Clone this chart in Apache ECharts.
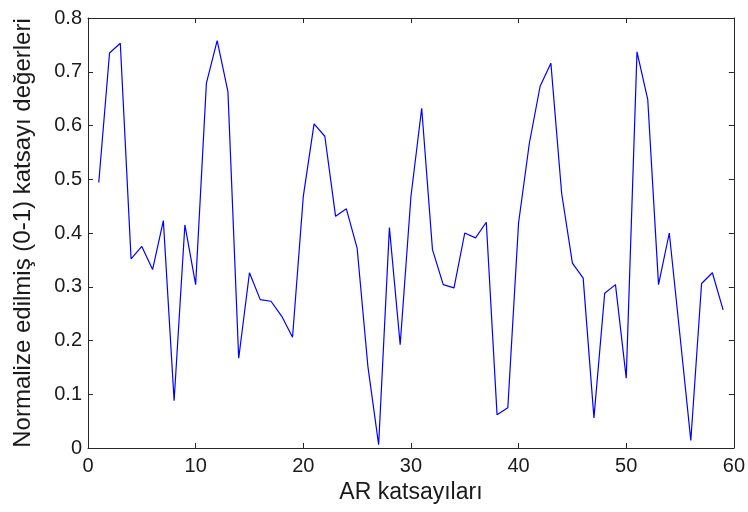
<!DOCTYPE html>
<html><head><meta charset="utf-8">
<script src="https://cdn.jsdelivr.net/npm/echarts@6/dist/echarts.min.js"></script>
<style>html,body{margin:0;padding:0;background:#fff}#c{width:748px;height:512px}</style>
</head><body><div id="c"></div>
<script>
const xValues = [1,2,3,4,5,6,7,8,9,10,11,12,13,14,15,16,17,18,19,20,21,22,23,24,25,26,27,28,29,30,31,32,33,34,35,36,37,38,39,40,41,42,43,44,45,46,47,48,49,50,51,52,53,54,55,56,57,58,59];
const yValues = [0.494,0.735,0.753,0.352,0.375,0.332,0.423,0.088,0.415,0.304,0.679,0.758,0.663,0.167,0.326,0.276,0.273,0.245,0.206,0.468,0.603,0.580,0.431,0.445,0.372,0.152,0.006,0.410,0.192,0.468,0.632,0.369,0.304,0.298,0.400,0.391,0.420,0.062,0.075,0.419,0.567,0.673,0.716,0.474,0.344,0.316,0.056,0.288,0.304,0.130,0.737,0.648,0.304,0.400,0.208,0.014,0.306,0.326,0.257];
const xTitle = 'AR katsayıları';
const yTitle = 'Normalize edilmiş (0-1) katsayı değerleri';
const FONT = '"Liberation Sans",Arial,sans-serif';
const chart = echarts.init(document.getElementById('c'), null, {renderer:'canvas'});
const axisLine = {show:true, onZero:false, lineStyle:{color:'#262626', width:1}};
const tick = {show:true, inside:true, length:5, lineStyle:{color:'#262626'}};
chart.setOption({
  animation:false,
  backgroundColor:'#fff',
  grid:{left:88, right:12, top:18, bottom:64, containLabel:false},
  xAxis:[
    {type:'value', min:0, max:60, interval:10, position:'bottom',
     axisLine, axisTick:tick, splitLine:{show:false},
     axisLabel:{color:'#1a1a1a', fontFamily:FONT, fontSize:20, margin:8},
     name:xTitle, nameLocation:'middle', nameGap:32,
     nameTextStyle:{color:'#1a1a1a', fontFamily:FONT, fontSize:23}},
    {type:'value', min:0, max:60, interval:10, position:'top',
     axisLine, axisTick:tick, axisLabel:{show:false}, splitLine:{show:false}}
  ],
  yAxis:[
    {type:'value', min:0, max:0.8, interval:0.1, position:'left',
     axisLine, axisTick:tick, splitLine:{show:false},
     axisLabel:{color:'#1a1a1a', fontFamily:FONT, fontSize:20, margin:6, formatter:v=>v===0?'0':v.toFixed(1)},
     name:yTitle, nameLocation:'middle', nameGap:53, nameRotate:90,
     nameTextStyle:{color:'#1a1a1a', fontFamily:FONT, fontSize:24}},
    {type:'value', min:0, max:0.8, interval:0.1, position:'right',
     axisLine, axisTick:tick, axisLabel:{show:false}, splitLine:{show:false}}
  ],
  series:[{type:'line', xAxisIndex:0, yAxisIndex:0, showSymbol:false,
    lineStyle:{color:'#0000ff', width:1.2},
    data: xValues.map((x,i)=>[x, yValues[i]])}]
});
</script></body></html>
